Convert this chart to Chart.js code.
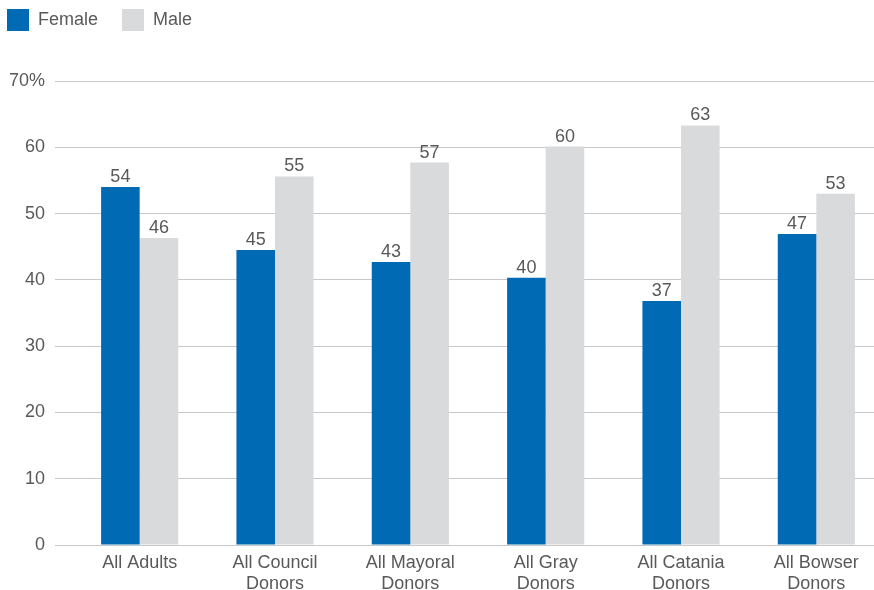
<!DOCTYPE html>
<html>
<head>
<meta charset="utf-8">
<script src="https://cdn.jsdelivr.net/npm/chart.js@4.4.1/dist/chart.umd.min.js"></script>
<style>
  html, body { margin: 0; padding: 0; background: #fff; overflow: hidden; }
  #wrap { width: 884px; height: 590px; position: relative; }
</style>
</head>
<body>
<div id="wrap"><canvas id="c"></canvas></div>
<script>
const categories = [
  'All Adults',
  ['All Council', 'Donors'],
  ['All Mayoral', 'Donors'],
  ['All Gray', 'Donors'],
  ['All Catania', 'Donors'],
  ['All Bowser', 'Donors']
];
const femaleValues = [54.0, 44.5, 42.7, 40.3, 36.8, 46.9];
const maleValues = [46.3, 55.6, 57.7, 60.1, 63.3, 53.0];
const femaleLabels = ['54', '45', '43', '40', '37', '47'];
const maleLabels = ['46', '55', '57', '60', '63', '53'];
const yTicks = [0, 10, 20, 30, 40, 50, 60, 70];

const TEXT = '#595959';
const FONT = "'Liberation Sans', Arial, Helvetica, sans-serif";

const valueLabels = {
  id: 'valueLabels',
  afterDatasetsDraw(chart) {
    const ctx = chart.ctx;
    ctx.save();
    ctx.font = '18px ' + FONT;
    ctx.fillStyle = TEXT;
    ctx.textAlign = 'center';
    ctx.textBaseline = 'alphabetic';
    chart.data.datasets.forEach((ds, di) => {
      const meta = chart.getDatasetMeta(di);
      meta.data.forEach((bar, i) => {
        ctx.fillText(ds.valueLabels[i], bar.x, bar.y - 5);
      });
    });
    ctx.restore();
  }
};

const legendHeight = {
  id: 'legendHeight',
  beforeInit(chart) {
    const origFit = chart.legend.fit;
    chart.legend.fit = function () {
      origFit.bind(chart.legend)();
      this.height = 96;
    };
  }
};

new Chart(document.getElementById('c'), {
  type: 'bar',
  data: {
    labels: categories,
    datasets: [
      { label: 'Female', data: femaleValues, valueLabels: femaleLabels,
        backgroundColor: '#006ab4', borderWidth: 0,
        barPercentage: 1, categoryPercentage: 0.57 },
      { label: 'Male', data: maleValues, valueLabels: maleLabels,
        backgroundColor: '#d9dadc', borderWidth: 0,
        barPercentage: 1, categoryPercentage: 0.57 }
    ]
  },
  options: {
    responsive: true,
    maintainAspectRatio: false,
    animation: false,
    layout: { padding: { left: -17, top: -15, right: 0, bottom: 0 } },
    plugins: {
      legend: {
        position: 'top',
        align: 'start',
        labels: {
          boxWidth: 22,
          boxHeight: 22,
          padding: 24,
          color: TEXT,
          font: { family: FONT, size: 18 }
        }
      },
      tooltip: { enabled: false }
    },
    scales: {
      x: {
        grid: { display: false, drawTicks: false },
        border: { display: false },
        ticks: {
          color: TEXT,
          padding: 8,
          maxRotation: 0,
          autoSkip: false,
          font: { family: FONT, size: 18, lineHeight: 21 / 18 }
        },
        afterFit(scale) { scale.height = 45; }
      },
      y: {
        min: 0,
        max: 70,
        afterBuildTicks(scale) { scale.ticks = yTicks.map(v => ({ value: v })); },
        grid: { color: '#c8c8c8', lineWidth: 1, drawTicks: true, tickLength: 17, tickColor: '#c8c8c8' },
        border: { display: false },
        ticks: {
          color: TEXT,
          padding: 10,
          font: { family: FONT, size: 18 },
          callback: (v) => v === 70 ? '70%' : String(v)
        },
        afterFit(scale) { scale.width = 89; }
      }
    }
  },
  plugins: [valueLabels, legendHeight]
});
</script>
</body>
</html>
